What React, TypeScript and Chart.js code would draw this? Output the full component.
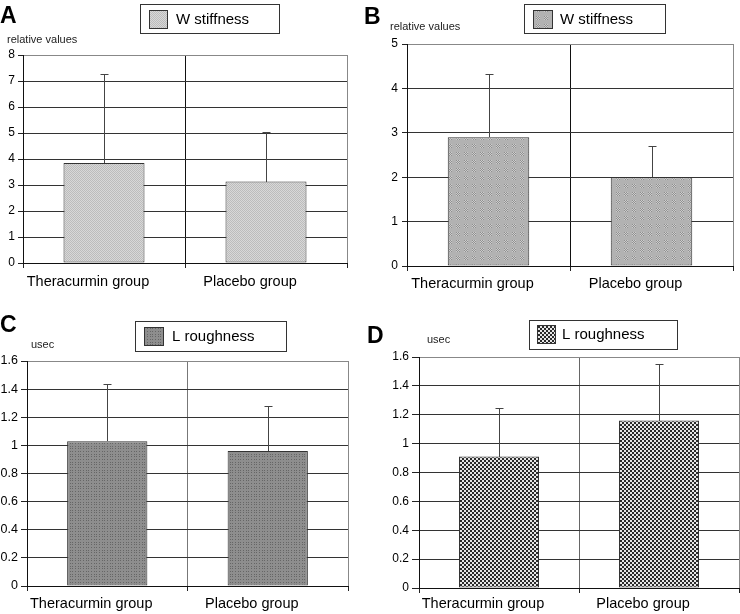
import React, { useEffect, useRef } from 'react';
import { Chart, registerables } from 'chart.js';

Chart.register(...registerables);

// ---------- data ----------
const categories = ['Theracurmin group', 'Placebo group'];

const wStiffnessA = [3.85, 3.13];
const wStiffnessAErr = [3.43, 1.91];

const wStiffnessB = [2.9, 2.0];
const wStiffnessBErr = [1.43, 0.7];

const lRoughnessC = [1.03, 0.96];
const lRoughnessCErr = [0.41, 0.32];

const lRoughnessD = [0.91, 1.16];
const lRoughnessDErr = [0.34, 0.39];

const panelLetters = ['A', 'B', 'C', 'D'];
const seriesNames = ['W stiffness', 'W stiffness', 'L roughness', 'L roughness'];
const unitLabels = ['relative values', 'relative values', 'usec', 'usec'];
const yMaxes = [8, 5, 1.6, 1.6];
const ySteps = [1, 1, 0.2, 0.2];

// ---------- layout (pixel geometry, not data) ----------
const W = 740;
const H = 614;
const layouts = [
  { L: 23, R: 347, T: 55, B: 263, yW: 23, xH: 36, tickLen: 5, yPad: 3, xPad: 5, tickFont: 12,
    letter: [0, 23], unit: [7, 43], box: [140, 4, 139, 29], sw: [149, 10, 18, 18], text: [176, 19.5],
    midColor: '#111' },
  { L: 407, R: 733, T: 44, B: 266, yW: 40, xH: 34, tickLen: 5, yPad: 4, xPad: 4, tickFont: 12,
    letter: [364, 24], unit: [390, 30], box: [524, 4, 141, 29], sw: [533, 10, 19, 18], text: [560, 19.5],
    midColor: '#111' },
  { L: 27, R: 348, T: 361, B: 586, yW: 27, xH: 28, tickLen: 6, yPad: 3, xPad: 4, tickFont: 12.5,
    letter: [0, 332], unit: [31, 348], box: [135, 321, 151, 30], sw: [144, 327, 19, 18], text: [172, 336.5],
    midColor: '#777' },
  { L: 419, R: 739, T: 357, B: 588, yW: 40, xH: 26, tickLen: 7, yPad: 3, xPad: 2, tickFont: 12,
    letter: [367, 343], unit: [427, 343], box: [529, 320, 148, 29], sw: [537, 325, 18, 18], text: [562, 335],
    midColor: '#666' },
];

const FONT = '"Liberation Sans", Arial, sans-serif';

function makePattern(kind: number): CanvasPattern | string {
  const c = document.createElement('canvas');
  const size = 8;
  c.width = size;
  c.height = size;
  const g = c.getContext('2d');
  if (!g) return '#aaa';
  for (let y = 0; y < size; y++) {
    for (let x = 0; x < size; x++) {
      let col = '#c8c8c8';
      if (kind === 0) {
        col = (x + y) % 2 === 0 ? '#bcbcbc' : ((x - y + 8) % 4 === 0 ? '#cccccc' : '#d8d8d8');
      } else if (kind === 1) {
        const inBlock = x < 4 && y < 4;
        col = inBlock ? ((x + y) % 2 === 0 ? '#909090' : '#cccccc') : '#b2b2b2';
      } else if (kind === 2) {
        col = (x % 3 === 0 && y % 3 === 0) ? '#666666' : '#8e8e8e';
      } else {
        const cx = Math.floor(x / 2);
        const cy = Math.floor(y / 2);
        col = (cx + cy) % 2 === 0 ? '#2a2a2a' : '#e6e6e6';
      }
      g.fillStyle = col;
      g.fillRect(x, y, 1, 1);
    }
  }
  const ctx = document.createElement('canvas').getContext('2d');
  return (ctx && ctx.createPattern(c, 'repeat')) || '#aaa';
}

const decorPlugin = {
  id: 'decor',
  afterDatasetsDraw(chart: any, _args: any, opts: any) {
    const ctx = chart.ctx;
    const meta = chart.getDatasetMeta(0);
    const yScale = chart.scales.y;
    const vals = chart.data.datasets[0].data as number[];
    ctx.save();
    ctx.strokeStyle = '#444';
    ctx.lineWidth = 1;
    meta.data.forEach((bar: any, i: number) => {
      const v = vals[i];
      const e = opts.errors[i];
      const x = Math.round(bar.x) + 0.5;
      const y0 = Math.round(yScale.getPixelForValue(v));
      const y1 = Math.round(yScale.getPixelForValue(v + e)) + 0.5;
      ctx.beginPath();
      ctx.moveTo(x, y0);
      ctx.lineTo(x, y1);
      ctx.moveTo(x - 4, y1);
      ctx.lineTo(x + 4, y1);
      ctx.stroke();
    });
    ctx.restore();
  },
  afterDraw(chart: any, _args: any, opts: any) {
    const ctx = chart.ctx;
    const lay = opts.lay;
    ctx.save();
    ctx.fillStyle = '#000';
    ctx.font = 'bold 23px ' + FONT;
    ctx.textBaseline = 'alphabetic';
    ctx.textAlign = 'left';
    ctx.fillText(opts.letter, lay.letter[0], lay.letter[1]);
    ctx.fillStyle = '#222';
    ctx.font = '11px ' + FONT;
    ctx.fillText(opts.unit, lay.unit[0], lay.unit[1]);
    const [bx, by, bw, bh] = lay.box;
    ctx.fillStyle = '#fff';
    ctx.fillRect(bx, by, bw, bh);
    ctx.strokeStyle = '#333';
    ctx.lineWidth = 1;
    ctx.strokeRect(bx + 0.5, by + 0.5, bw, bh);
    const [sx, sy, sw, sh] = lay.sw;
    ctx.fillStyle = opts.fill;
    ctx.fillRect(sx, sy, sw, sh);
    ctx.strokeRect(sx + 0.5, sy + 0.5, sw, sh);
    ctx.fillStyle = '#000';
    ctx.font = '15px ' + FONT;
    ctx.textBaseline = 'middle';
    ctx.fillText(opts.name, lay.text[0], lay.text[1]);
    ctx.restore();
  },
};

function Panel({ idx, values, errors }: { idx: number; values: number[]; errors: number[] }) {
  const ref = useRef<HTMLCanvasElement | null>(null);
  useEffect(() => {
    if (!ref.current) return;
    const lay = layouts[idx];
    const fill = makePattern(idx);
    const chart = new Chart(ref.current, {
      type: 'bar',
      data: {
        labels: categories,
        datasets: [
          {
            label: seriesNames[idx],
            data: values,
            backgroundColor: fill as any,
            borderColor: '#333',
            borderWidth: 1,
            borderSkipped: false,
            barPercentage: 0.5,
            categoryPercentage: 1,
          },
        ],
      },
      options: {
        responsive: false,
        animation: false,
        devicePixelRatio: 1,
        events: [],
        layout: {
          padding: {
            left: lay.L - lay.yW,
            right: W - lay.R,
            top: lay.T,
            bottom: H - lay.B - lay.xH,
          },
        },
        plugins: {
          legend: { display: false },
          tooltip: { enabled: false },
          decor: {
            errors,
            lay,
            fill,
            letter: panelLetters[idx],
            unit: unitLabels[idx],
            name: seriesNames[idx],
          },
        } as any,
        scales: {
          x: {
            type: 'category',
            offset: true,
            grid: {
              offset: true,
              color: (c: any) => (c.index === 1 ? lay.midColor : '#888'),
              lineWidth: 1,
              tickLength: 5,
              tickColor: '#222',
            },
            border: { color: '#111', width: 1 },
            ticks: {
              color: '#000',
              font: { family: FONT, size: 14.5 },
              labelOffset: -16,
              padding: lay.xPad,
              maxRotation: 0,
              autoSkip: false,
            },
            afterFit: (s: any) => {
              s.height = lay.xH;
            },
          },
          y: {
            min: 0,
            max: yMaxes[idx],
            grid: {
              color: (c: any) => (c.tick && c.tick.value >= yMaxes[idx] - 1e-9 ? '#888' : '#333'),
              lineWidth: 1,
              tickLength: lay.tickLen,
              tickColor: '#222',
            },
            border: { color: '#111', width: 1 },
            ticks: {
              stepSize: ySteps[idx],
              color: '#000',
              padding: lay.yPad,
              font: { family: FONT, size: lay.tickFont },
              callback: (v: any) => String(Math.round(Number(v) * 10) / 10),
            },
            afterFit: (s: any) => {
              s.width = lay.yW;
            },
          },
        },
      },
      plugins: [decorPlugin as any],
    });
    return () => chart.destroy();
  }, [idx, values, errors]);
  return (
    <canvas
      ref={ref}
      width={W}
      height={H}
      style={{ position: 'absolute', left: 0, top: 0, width: W, height: H }}
    />
  );
}

export default function App() {
  return (
    <div style={{ position: 'absolute', left: 0, top: 0, width: W, height: H, background: '#fff', overflow: 'hidden' }}>
      <Panel idx={0} values={wStiffnessA} errors={wStiffnessAErr} />
      <Panel idx={1} values={wStiffnessB} errors={wStiffnessBErr} />
      <Panel idx={2} values={lRoughnessC} errors={lRoughnessCErr} />
      <Panel idx={3} values={lRoughnessD} errors={lRoughnessDErr} />
    </div>
  );
}
